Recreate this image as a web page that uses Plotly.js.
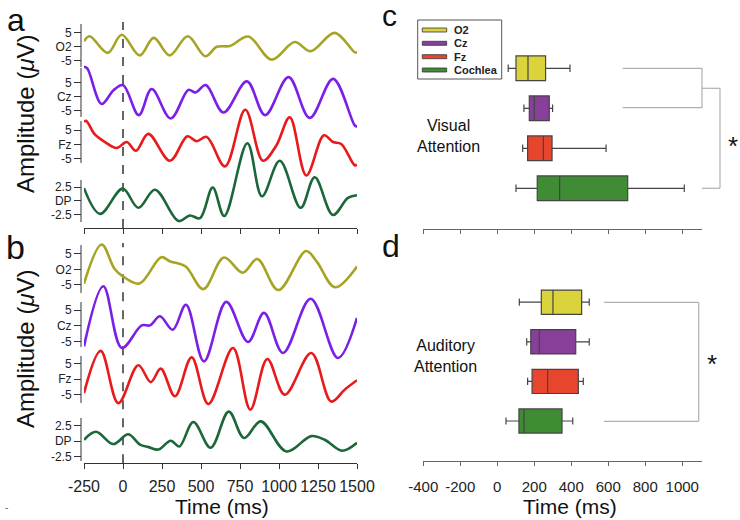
<!DOCTYPE html>
<html><head><meta charset="utf-8">
<script src="https://cdn.plot.ly/plotly-3.0.1.min.js"></script>
<style>html,body{margin:0;padding:0;background:#fff}#chart{width:740px;height:520px}</style>
</head><body><div id="chart"></div>
<script>
// ---------- DATA ----------
// Panel a: Visual attention, time (ms) / amplitude (µV)
const visO2Time = [-250,-214,-98,-8,107,197,299,415,528,601,686,803,954,1100,1203,1357,1486,1500];
const visO2Amp  = [1.9,3.7,-2.3,4.2,-3.2,3.1,-3.2,3.7,-3.5,-0.1,0.2,3.6,-4.7,1.6,-1.7,4.9,-2.1,-2.1];
const visCzTime = [-250,-229,-137,-62,0,101,184,306,419,465,531,644,794,911,1061,1197,1347,1486,1500];
const visCzAmp  = [10.6,10.0,-2.6,2.2,4.1,-6.5,2.7,-7.7,2.4,1.5,4.1,-5.6,5.4,-6.5,6.9,-7.5,6.3,-10.2,-10.5];
const visFzTime = [-250,-237,-179,-115,-40,24,83,162,301,412,472,537,654,784,897,983,1069,1175,1288,1346,1399,1485,1500];
const visFzAmp  = [7.9,8.3,3.4,0.8,-1.3,0.8,-2.3,3.7,-5.8,2.8,1.1,2.6,-7.8,12.2,-5.8,-0.4,9.5,-11.0,3.2,0.8,0.1,-7.4,-7.2];
const visDPTime = [-250,-147,-2,98,205,355,429,494,575,649,797,891,1005,1139,1229,1346,1442,1500];
const visDPAmp  = [2.3,-2.4,2.2,-1.3,2.0,-3.7,-2.7,-3.2,2.4,-2.8,10.5,0.8,7.3,-1.3,4.3,-2.6,0.5,1.0];
// Panel b: Auditory attention
const audO2Time = [-250,-137,-55,0,105,245,300,400,515,647,767,861,996,1173,1242,1359,1500];
const audO2Amp  = [-4.6,8.0,0.2,-2.3,-4.6,3.9,2.6,1.0,-6.4,3.8,-1.1,3.3,-6.7,5.9,2.5,-5.8,0.9];
const audCzTime = [-250,-126,-8,120,173,237,319,404,519,662,801,904,1026,1203,1378,1500];
const audCzAmp  = [-6.6,12.6,-7.1,0.1,0.1,3.0,-1.3,6.7,-11.4,7.6,-5.2,4.1,-8.7,8.6,-10.3,2.5];
const audFzTime = [-250,-143,-30,98,178,242,333,440,547,705,816,925,1037,1207,1335,1421,1500];
const audFzAmp  = [-4.5,9.0,-7.7,4.4,-1.0,3.3,-5.5,6.9,-8.0,9.9,-9.8,6.4,-5.0,8.3,-7.2,-3.4,-0.4];
const audDPTime = [-250,-173,-62,34,109,165,226,306,361,451,562,678,776,883,1047,1207,1293,1404,1500];
const audDPAmp  = [0.2,1.5,-0.5,1.1,-0.6,-1.0,-1.4,0.05,-0.9,3.1,-1.1,4.8,0.5,3.2,-1.7,0.8,0.2,-1.6,-0.3];

// Ticks / labels
const timeTicks = [-250,0,250,500,750,1000,1250,1500];
const timeTickText = ['-250','0','250','500','750','1000','1250','1500'];
const eegTicks = [-5,0,5];
const dpTicks = [-2.5,0,2.5];
const channelLabels = ['O2','Cz','Fz','DP'];
const boxTicks = [-400,-200,0,200,400,600,800,1000];
const boxTickText = ['-400','-200','0','200','400','600','800','1000'];

// Panels c/d: latency box statistics (ms)
const boxChannels = ['O2','Cz','Fz','Cochlea'];
const visQ1  = [101,173,164,216];
const visMed = [166,200,249,337];
const visQ3  = [261,281,296,705];
const visLo  = [59,144,137,101];
const visHi  = [393,299,588,1011];
const audQ1  = [238,181,188,117];
const audMed = [301,227,272,144];
const audQ3  = [456,424,438,350];
const audLo  = [119,159,164,47];
const audHi  = [497,497,465,408];

// ---------- STYLE / LAYOUT ----------
const W=740,H=520;
const X=p=>p/W, Y=p=>1-p/H;
const F='Liberation Sans, Arial, Helvetica, sans-serif';
const lineColors=['#a6a424','#7a1fe6','#e81a1c','#1b6739'];
const boxColors=['#dad33c','#873f9a','#e8452f','#3f8c35'];

function yr(zero,s,top,bot){return [(zero-bot)/s,(zero-top)/s];}
function eegAxis(zero,s,top,bot,vals,label){
  return {domain:[Y(bot),Y(top)],range:yr(zero,s,top,bot),anchor:'free',position:X(81),
    tickvals:vals,ticktext:[String(vals[0]),label,String(vals[2])],ticks:'outside',ticklen:7,
    tickcolor:'#333',tickwidth:1,showline:false,showgrid:false,zeroline:false,
    tickfont:{family:F,size:12,color:'#222'},fixedrange:true};
}
const A_TOP=20,A_BOT=228,B_TOP=238,B_BOT=463.3;
const aAxes=[[46.5,2.78],[96.7,2.83],[144.3,2.83],[200.7,5.47]];
const bAxes=[[269.3,3.1],[325.7,3.13],[379,3.13],[441,6.13]];

const layout={width:W,height:H,margin:{l:0,r:0,t:0,b:0},paper_bgcolor:'#fff',plot_bgcolor:'rgba(0,0,0,0)',
  showlegend:false,font:{family:F,color:'#222'},
  xaxis:{domain:[X(84),X(357)],range:[-250,1500],anchor:'y',tickvals:timeTicks,showticklabels:false,
    ticks:'outside',ticklen:5,tickcolor:'#333',showline:true,linecolor:'#333',linewidth:1,showgrid:false,zeroline:false,fixedrange:true},
  xaxis2:{domain:[X(84),X(357)],range:[-250,1500],anchor:'y5',tickvals:timeTicks,ticktext:timeTickText,showticklabels:true,
    ticks:'outside',ticklen:5,tickcolor:'#333',showline:true,linecolor:'#333',linewidth:1,showgrid:false,zeroline:false,
    tickfont:{family:F,size:16,color:'#222'},ticklabelstandoff:3,fixedrange:true},
  xaxis3:{domain:[X(423.3),X(701.7)],range:[-400,1105],anchor:'y9',tickvals:boxTicks,showticklabels:false,
    ticks:'outside',ticklen:4,tickcolor:'#666',showline:true,linecolor:'#666',linewidth:1,showgrid:false,zeroline:false,fixedrange:true},
  xaxis4:{domain:[X(423.3),X(701.7)],range:[-400,1105],anchor:'y10',tickvals:boxTicks,ticktext:boxTickText,showticklabels:true,
    ticks:'outside',ticklen:4,tickcolor:'#666',showline:true,linecolor:'#666',linewidth:1,showgrid:false,zeroline:false,
    tickfont:{family:F,size:15,color:'#222'},ticklabelstandoff:8,fixedrange:true},
  yaxis9:{domain:[Y(228.7),Y(20)],range:[(188.3-228.7)/40,(188.3-20)/40],visible:false,fixedrange:true},
  yaxis10:{domain:[Y(460.7),Y(260)],range:[(421-460.7)/39.6,(421-260)/39.6],visible:false,fixedrange:true},
  shapes:[],annotations:[]};

aAxes.forEach((a,i)=>{const k=i===0?'yaxis':'yaxis'+(i+1);
  layout[k]=eegAxis(a[0],a[1],A_TOP,A_BOT,i===3?dpTicks:eegTicks,channelLabels[i]);});
bAxes.forEach((a,i)=>{layout['yaxis'+(i+5)]=eegAxis(a[0],a[1],B_TOP,B_BOT,i===3?dpTicks:eegTicks,channelLabels[i]);});

// vertical axis segments
const segA=[[24,67],[68,117],[121,163],[180,222]], segB=[[245,293],[302,347],[356,403],[418,461]];
segA.concat(segB).forEach(s=>layout.shapes.push({type:'line',xref:'paper',yref:'paper',x0:X(81),x1:X(81),y0:Y(s[0]),y1:Y(s[1]),line:{color:'#333',width:1}}));
// dashed stimulus-onset lines
layout.shapes.push({type:'line',xref:'x',yref:'paper',x0:0,x1:0,y0:Y(A_BOT),y1:Y(22),layer:'below',line:{color:'#333',width:1.5,dash:'dash'}});
layout.shapes.push({type:'line',xref:'x2',yref:'paper',x0:0,x1:0,y0:Y(B_BOT),y1:Y(243),layer:'below',line:{color:'#333',width:1.5,dash:'dash'}});
// significance brackets
const br='#b0b0b0';
function seg(x0,y0,x1,y1){return {type:'line',xref:'paper',yref:'paper',x0:X(x0),y0:Y(y0),x1:X(x1),y1:Y(y1),line:{color:br,width:1.2}};}
layout.shapes.push(seg(622.7,68.3,702,68.3),seg(702,68.3,702,107.7),seg(702,107.7,622.7,107.7),
  seg(702,88.3,720,88.3),seg(720,88.3,720,188.3),seg(720,188.3,701.7,188.3),
  seg(604,302.3,698.7,302.3),seg(698.7,302.3,698.7,421.3),seg(698.7,421.3,604,421.3));
// legend frame and swatches
layout.shapes.push({type:'rect',xref:'paper',yref:'paper',x0:X(417.7),x1:X(501.7),y0:Y(79),y1:Y(20),line:{color:'#555',width:1}});
const rows=[30,43.3,56.7,70];
boxChannels.forEach((c,i)=>{
  layout.shapes.push({type:'rect',xref:'paper',yref:'paper',x0:X(422.3),x1:X(446.7),y0:Y(rows[i]+2),y1:Y(rows[i]-2),fillcolor:boxColors[i],line:{color:'#333',width:0.8}});
  layout.annotations.push({xref:'paper',yref:'paper',x:X(451.5),y:Y(rows[i]),xanchor:'left',yanchor:'middle',showarrow:false,text:'<b>'+c+'</b>',font:{family:F,size:11,color:'#222'}});
});

function ann(x,y,text,size,extra){return Object.assign({xref:'paper',yref:'paper',x:X(x),y:Y(y),xanchor:'center',yanchor:'middle',showarrow:false,text:text,font:{family:F,size:size,color:'#111'}},extra||{});}
layout.annotations.push(
  ann(16,0,'a',32,{yanchor:'top'}),ann(15,247,'b',34),ann(390,0,'c',30,{yanchor:'top',yshift:3}),ann(391,246,'d',32),
  ann(25,114,'Amplitude (<i>μ</i>V)',24,{textangle:-90}),
  ann(25,349,'Amplitude (<i>μ</i>V)',24,{textangle:-90}),
  ann(222,520,'Time (ms)',21,{yanchor:'bottom'}),
  ann(570,520,'Time (ms)',21,{yanchor:'bottom'}),
  ann(448,136.5,'Visual<br>Attention',16),
  ann(445.5,355.5,'Auditory<br>Attention',16),
  ann(733,146,'*',26),ann(711.7,364,'*',26),
  ann(6,507,'-',10,{font:{family:F,size:10,color:'#666'}})
);

// ---------- TRACES ----------
const traces=[];
const visSets=[[visO2Time,visO2Amp],[visCzTime,visCzAmp],[visFzTime,visFzAmp],[visDPTime,visDPAmp]];
const audSets=[[audO2Time,audO2Amp],[audCzTime,audCzAmp],[audFzTime,audFzAmp],[audDPTime,audDPAmp]];
visSets.forEach((s,i)=>traces.push({type:'scatter',mode:'lines',x:s[0],y:s[1],xaxis:'x',yaxis:i===0?'y':'y'+(i+1),
  line:{color:lineColors[i],width:2.6,shape:'spline',smoothing:1},hoverinfo:'skip',name:channelLabels[i]}));
audSets.forEach((s,i)=>traces.push({type:'scatter',mode:'lines',x:s[0],y:s[1],xaxis:'x2',yaxis:'y'+(i+5),
  line:{color:lineColors[i],width:2.6,shape:'spline',smoothing:1},hoverinfo:'skip',name:channelLabels[i]}));
const positions=[3,2,1,0];
boxChannels.forEach((c,i)=>{
  traces.push({type:'box',orientation:'h',name:c,y:[positions[i]],q1:[visQ1[i]],median:[visMed[i]],q3:[visQ3[i]],
    lowerfence:[visLo[i]],upperfence:[visHi[i]],xaxis:'x3',yaxis:'y9',width:0.62,whiskerwidth:0.3,
    fillcolor:boxColors[i],line:{color:'#444',width:1.2},boxpoints:false,hoverinfo:'skip'});
  traces.push({type:'box',orientation:'h',name:c,y:[positions[i]],q1:[audQ1[i]],median:[audMed[i]],q3:[audQ3[i]],
    lowerfence:[audLo[i]],upperfence:[audHi[i]],xaxis:'x4',yaxis:'y10',width:0.61,whiskerwidth:0.3,
    fillcolor:boxColors[i],line:{color:'#444',width:1.2},boxpoints:false,hoverinfo:'skip'});
});

Plotly.newPlot('chart',traces,layout,{staticPlot:true,displayModeBar:false});
</script></body></html>
